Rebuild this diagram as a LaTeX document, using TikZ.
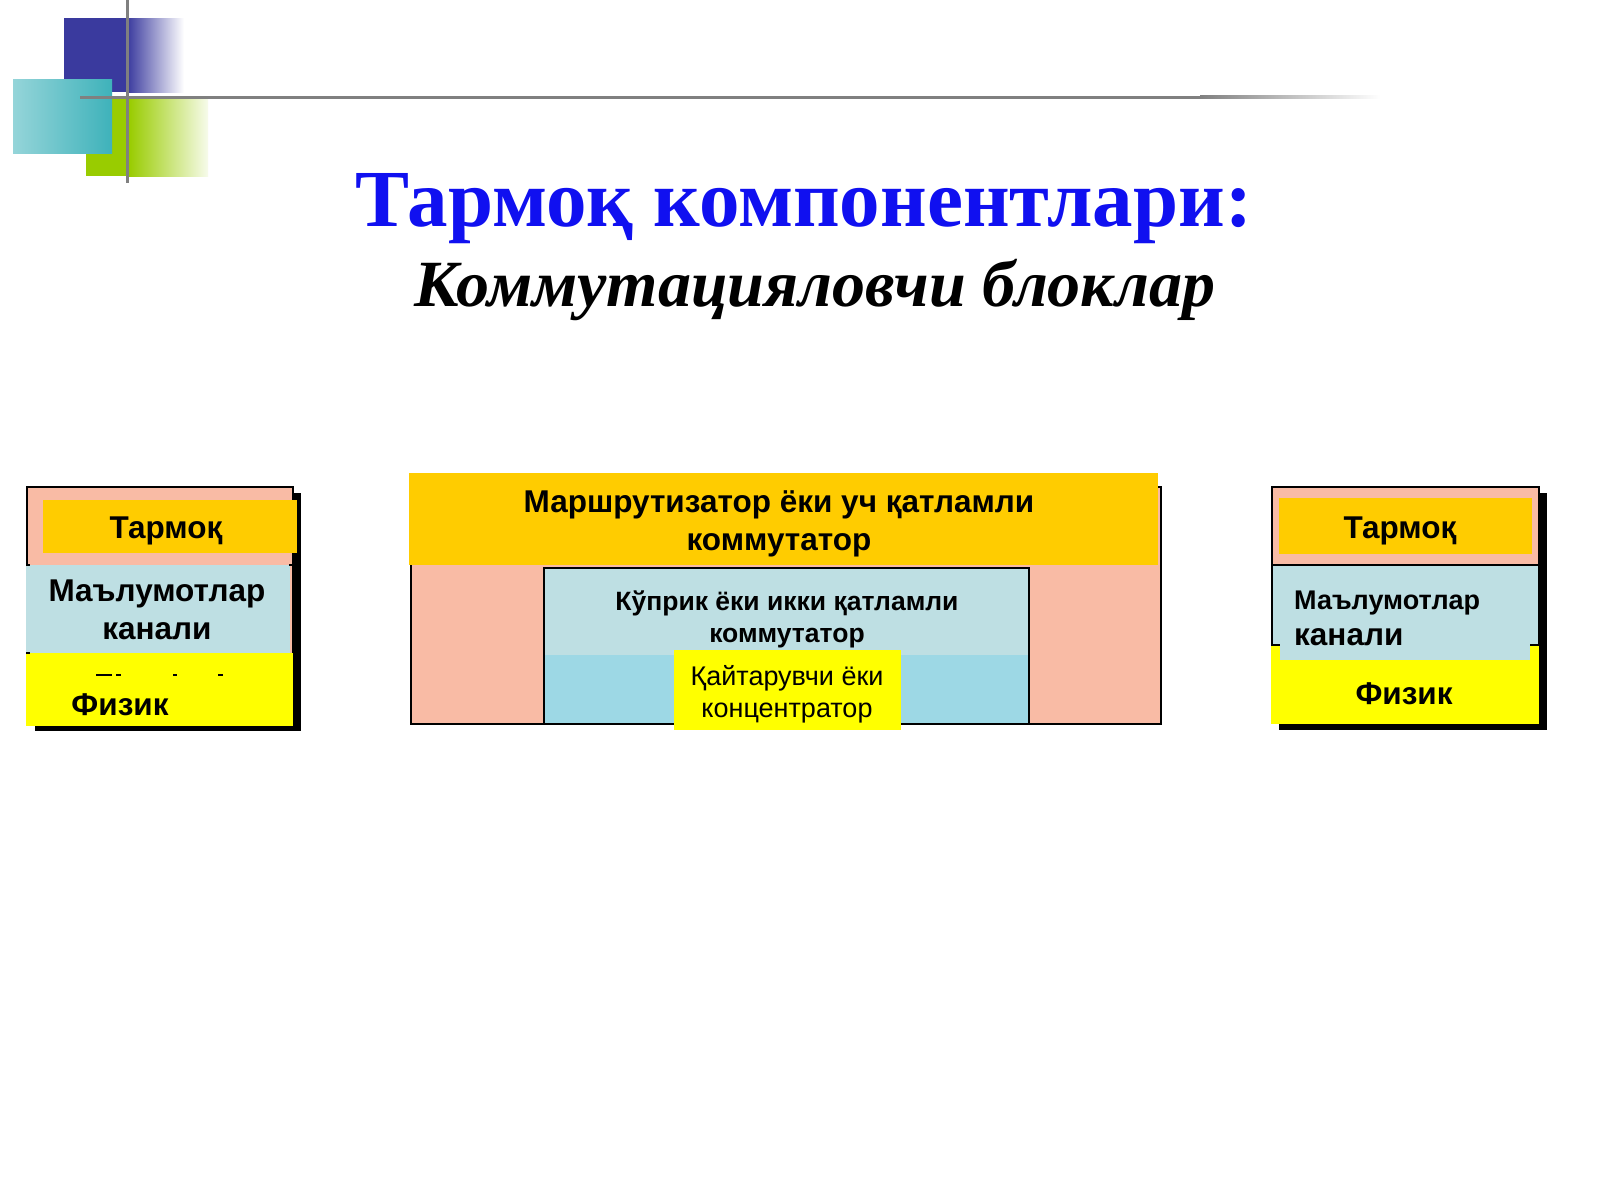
\documentclass[tikz,border=0pt]{standalone}
\usepackage{fontspec}
\setmainfont{Liberation Serif}
\newfontfamily\sansf{Liberation Sans}
\definecolor{decoblue}{HTML}{3A3A9E}
\definecolor{decoteal}{HTML}{3EB2BA}
\definecolor{decogreen}{HTML}{99CC00}
\definecolor{linegray}{HTML}{808080}
\definecolor{titleblue}{HTML}{1010F0}
\definecolor{layorange}{HTML}{FFCC00}
\definecolor{laypink}{HTML}{F9BBA5}
\definecolor{laylightblue}{HTML}{BEDFE3}
\definecolor{laymidblue}{HTML}{9DD8E5}
\definecolor{layyellow}{HTML}{FFFF00}
\begin{document}
\begin{tikzpicture}[x=1pt,y=-1pt,
  boxline/.style={draw=black,line width=1.5pt},
  shadowbar/.style={fill=black},
  lbl/.style={inner sep=0pt,align=center,font=\sansf\bfseries\fontsize{31.5}{38}\selectfont},
  lblsmall/.style={inner sep=0pt,align=center,font=\sansf\bfseries\fontsize{26.5}{32}\selectfont},
  lblreg/.style={inner sep=0pt,align=center,font=\sansf\fontsize{27}{32}\selectfont}]
\useasboundingbox (0,0) rectangle (1600,1200);
\fill[white] (0,0) rectangle (1600,1200);

% --- corner decoration ---
\fill[decoblue] (64,18) rectangle (128,92);
\shade[left color=decoblue,right color=white] (127,18) rectangle (184,92);
\fill[decogreen] (86,97) rectangle (130,176);
\shade[left color=decogreen,right color=decogreen!8!white] (129,97) rectangle (208,176);
\shade[left color=decoteal!55!white,right color=decoteal] (13,79) rectangle (112,153);
\draw[linegray,line width=3pt] (127,0) -- (127,183);
\draw[linegray,line width=3pt] (80,97) -- (1200,97);
\shade[left color=linegray,right color=white] (1200,95.5) rectangle (1380,98.5);

% --- title ---
\node[inner sep=0pt,text=titleblue,font=\bfseries\fontsize{81}{85}\selectfont] (title) at (804,209) {Тармоқ компонентлари:};
\node[inner sep=0pt,font=\bfseries\itshape\fontsize{66}{70}\selectfont] (subtitle) at (815,290) {Коммутацияловчи блоклар};

% --- left block ---
\fill[shadowbar] (35,493) rectangle (301,731);
\fill[laypink,boxline] (27,487) rectangle (293,725);
\fill[layorange] (43,500) rectangle (297,553);
\fill[laylightblue] (26,565) rectangle (290,653);
\fill[layyellow] (26,653) rectangle (293,726);
\draw[line width=1.5pt] (26,565) -- (30,565) (289,565) -- (293,565) (26,653) -- (30,653);
\draw[line width=2pt] (96,675) -- (112,675) (116,675) -- (121,675) (173,675) -- (177,675) (218,675) -- (223,675);
\node[lbl] (ltarmoq) at (166,531) {Тармоқ};
\node[lbl] (lkanal) at (157,610) {Маълумотлар\\канали};
\node[lbl] (lfizik) at (120,705) {Физик};

% --- centre block ---
\fill[laypink,boxline] (411,487) rectangle (1161,724);
\fill[layorange] (409,473) rectangle (1158,565);
\fill[laylightblue] (544,568) rectangle (1029,655);
\fill[laymidblue] (544,655) rectangle (1029,724);
\draw[boxline] (544,568) rectangle (1029,724);
\fill[layyellow] (674,650) rectangle (901,730);
\node[lbl] (router) at (779,524) {Маршрутизатор ёки уч қатламли\\коммутатор};
\node[lblsmall] (bridge) at (787,619) {Кўприк ёки икки қатламли\\коммутатор};
\node[lblreg] (hub) at (787,694) {Қайтарувчи ёки\\концентратор};

% --- right block ---
\fill[shadowbar] (1279,493) rectangle (1547,730);
\fill[laypink,boxline] (1272,487) rectangle (1539,723);
\fill[layorange] (1279,498) rectangle (1532,554);
\fill[laylightblue,boxline] (1272,565) rectangle (1539,645);
\fill[layyellow] (1271,645) rectangle (1539,724);
\fill[laylightblue] (1280,644) rectangle (1530,660);
\draw[line width=1.5pt] (1271,645) -- (1280,645) (1530,645) -- (1539,645);
\node[lbl] (rtarmoq) at (1400,531) {Тармоқ};
\node[inner sep=0pt,align=left,anchor=west,font=\sansf\bfseries\fontsize{27}{36}\selectfont] (rkanal) at (1294,618) {Маълумотлар\\{\fontsize{31.5}{36}\selectfont канали}};
\node[lbl] (rfizik) at (1404,694) {Физик};
\end{tikzpicture}
\end{document}
